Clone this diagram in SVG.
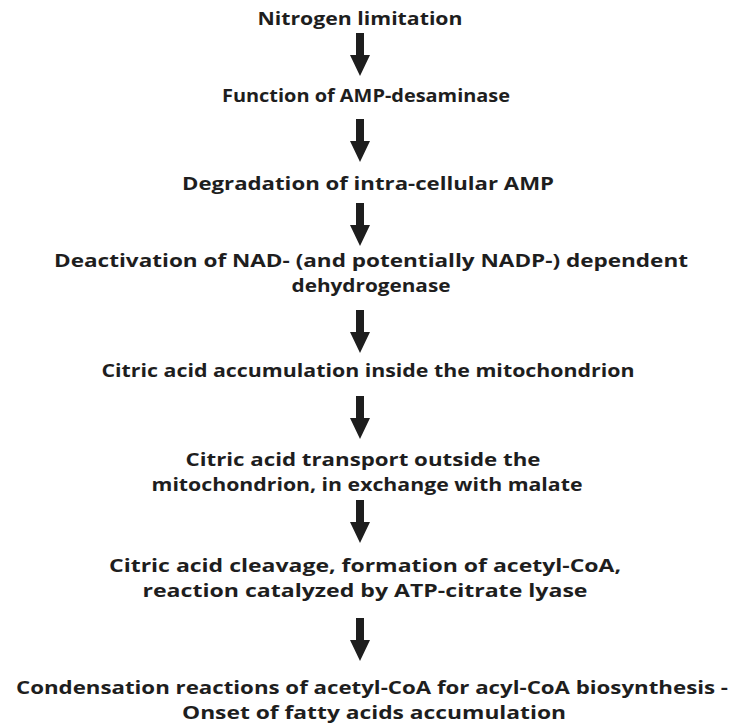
<svg xmlns="http://www.w3.org/2000/svg" width="742" height="728" viewBox="0 0 742 728">
  <defs>
    <style>
      .lbl { font-family: "Comic Sans MS", "Open Sans", "DejaVu Sans", sans-serif; font-size: 18px; font-weight: 700; fill: #1e1e1e; text-anchor: middle; }
      .arrow { fill: #1e1e1e; }
    </style>
    <!-- downward block arrow, 43px tall, tip at (0,0) -->
    <path id="down" d="M -4 -43 L 4 -43 L 4 -21 L 10 -21 L 0 0 L -10 -21 L -4 -21 Z"/>
  </defs>
  <rect width="742" height="728" fill="#ffffff"/>

  <g id="connectors" class="arrow">
    <use href="#down" x="360" y="76"/>
    <use href="#down" x="360" y="162"/>
    <use href="#down" x="360" y="246"/>
    <use href="#down" x="360" y="353"/>
    <use href="#down" x="360" y="439"/>
    <use href="#down" x="360" y="543"/>
    <use href="#down" x="360" y="661"/>
  </g>

  <g id="n1"><text class="lbl" x="360" y="25" textLength="205" lengthAdjust="spacingAndGlyphs">Nitrogen limitation</text></g>
  <g id="n2"><text class="lbl" x="366" y="102" textLength="288" lengthAdjust="spacingAndGlyphs">Function of AMP-desaminase</text></g>
  <g id="n3"><text class="lbl" x="368" y="190" textLength="372" lengthAdjust="spacingAndGlyphs">Degradation of intra-cellular AMP</text></g>
  <g id="n4">
    <text class="lbl" x="371" y="267" textLength="634" lengthAdjust="spacingAndGlyphs">Deactivation of NAD- (and potentially NADP-) dependent</text>
    <text class="lbl" x="371" y="292" textLength="159" lengthAdjust="spacingAndGlyphs">dehydrogenase</text>
  </g>
  <g id="n5"><text class="lbl" x="368" y="377" textLength="533" lengthAdjust="spacingAndGlyphs">Citric acid accumulation inside the mitochondrion</text></g>
  <g id="n6">
    <text class="lbl" x="363" y="466" textLength="355" lengthAdjust="spacingAndGlyphs">Citric acid transport outside the</text>
    <text class="lbl" x="367" y="491" textLength="431" lengthAdjust="spacingAndGlyphs">mitochondrion, in exchange with malate</text>
  </g>
  <g id="n7">
    <text class="lbl" x="365" y="572" textLength="512" lengthAdjust="spacingAndGlyphs">Citric acid cleavage, formation of acetyl-CoA,</text>
    <text class="lbl" x="365" y="597" textLength="445" lengthAdjust="spacingAndGlyphs">reaction catalyzed by ATP-citrate lyase</text>
  </g>
  <g id="n8">
    <text class="lbl" x="372" y="694" textLength="712" lengthAdjust="spacingAndGlyphs">Condensation reactions of acetyl-CoA for acyl-CoA biosynthesis -</text>
    <text class="lbl" x="374" y="719" textLength="384" lengthAdjust="spacingAndGlyphs">Onset of fatty acids accumulation</text>
  </g>
</svg>
